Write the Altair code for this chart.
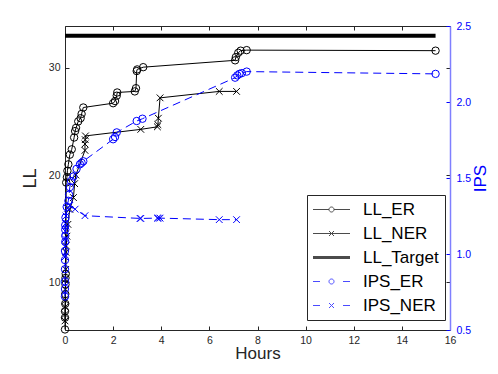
import altair as alt
import pandas as pd

# ---------------- data ----------------
ll_er_x = [0, 0, 0, 0.01, 0.01, 0.02, 0.02, 0.03, 0.05, 0.08, 0.1, 0.14, 0.2, 0.28, 0.38,
           0.42, 0.46, 0.55, 0.65, 0.69, 0.76, 2.0, 2.08, 2.15, 2.17, 2.9, 2.95, 2.98, 3.0,
           3.25, 7.07, 7.1, 7.2, 7.3, 7.55, 15.4]
ll_er_y = [5.6, 6.7, 7.3, 8.0, 8.9, 9.8, 10.4, 10.8, 19.3, 19.8, 20.4, 21.0, 21.9, 22.4, 23.5,
           24.1, 24.4, 25.0, 25.3, 25.7, 26.3, 26.7, 26.9, 27.4, 27.7, 27.8, 28.1, 29.7, 29.85,
           30.06, 30.7, 31.0, 31.4, 31.6, 31.65, 31.6]

ll_ner_x = [0, 0, 0.01, 0.01, 0.02, 0.02, 0.03, 0.04, 0.05, 0.08, 0.12, 0.2, 0.35, 0.4, 0.45,
            0.83, 0.83, 0.84, 0.85, 3.15, 3.84, 3.86, 3.88, 3.95, 6.41, 7.13]
ll_ner_y = [6.4, 7.0, 7.7, 8.3, 9.3, 10.3, 11.2, 12.8, 13.4, 14.3, 15.4, 16.8, 17.9, 19.2, 20.0,
            22.3, 22.9, 23.3, 23.65, 24.26, 24.5, 24.7, 25.3, 27.2, 27.8, 27.8]

target_x = [0, 15.4]
target_y = [33, 33]

ips_er_x = [0, 0, 0, 0, 0, 0, 0.01, 0.01, 0.01, 0.01, 0.02, 0.07, 0.14, 0.17, 0.2, 0.25, 0.35,
            0.48, 0.62, 0.69, 0.76, 2.0, 2.08, 2.15, 2.98, 3.22, 7.07, 7.16, 7.25, 7.35, 7.55, 15.4]
ips_er_y = [0.72, 0.77, 0.82, 0.9, 0.96, 1.02, 1.08, 1.12, 1.16, 1.19, 1.24, 1.31, 1.35, 1.39,
            1.44, 1.48, 1.51, 1.56, 1.59, 1.60, 1.61, 1.755, 1.77, 1.80, 1.875, 1.89, 2.16, 2.175,
            2.185, 2.19, 2.20, 2.185]

ips_ner_x = [0, 0, 0.01, 0.01, 0.02, 0.04, 0.1, 0.2, 0.42, 0.83, 3.12, 3.15, 3.84, 3.88, 3.95,
             6.41, 7.13]
ips_ner_y = [0.98, 1.05, 1.1, 1.15, 1.2, 1.25, 1.3, 1.32, 1.295, 1.252, 1.234, 1.234, 1.236,
             1.236, 1.236, 1.226, 1.226]

series_names = ["LL_ER", "LL_NER", "LL_Target", "IPS_ER", "IPS_NER"]
series_colors = ["#000000", "#000000", "#000000", "#0000ff", "#0000ff"]
# legend glyphs (SVG paths): line + marker, thick line, dashed line + marker
legend_paths = [
    "M-3.7,0H-0.5M0.5,0H3.7M-0.5,0A0.5,0.5 0 1,1 0.5,0A0.5,0.5 0 1,1 -0.5,0",
    "M-3.7,0H3.7M-0.5,-0.5L0.5,0.5M-0.5,0.5L0.5,-0.5",
    "M-3.7,-0.2H3.7M-3.7,-0.1H3.7M-3.7,0H3.7M-3.7,0.1H3.7M-3.7,0.2H3.7",
    "M-3.7,0H-2.3M2.3,0H3.7M-0.5,0A0.5,0.5 0 1,1 0.5,0A0.5,0.5 0 1,1 -0.5,0",
    "M-3.7,0H-2.3M2.3,0H3.7M-0.5,-0.5L0.5,0.5M-0.5,0.5L0.5,-0.5",
]

x_ticks = [0, 2, 4, 6, 8, 10, 12, 14, 16]
ll_ticks = [10, 20, 30]
ips_ticks = [0.5, 1, 1.5, 2, 2.5]

# ---------------- styling ----------------
FONT = "Liberation Sans"
AX = "#262626"
BLUE = "#0000ff"
LBLUE = "#7f7fff"
XMARK = "M-1,-1L1,1M-1,1L1,-1"


def frame(xs, ys):
    return pd.DataFrame({"h": xs, "v": ys, "i": list(range(len(xs)))})


er_df = frame(ll_er_x, ll_er_y)
ner_df = frame(ll_ner_x, ll_ner_y)
tg_df = frame(target_x, target_y)
ier_df = frame(ips_er_x, ips_er_y)
iner_df = frame(ips_ner_x, ips_ner_y)
leg_df = pd.DataFrame({"s": series_names, "h": [1] * 5, "v": [20] * 5})

xsc = alt.Scale(domain=[0, 16], nice=False, zero=False)
llsc = alt.Scale(domain=[5.55, 33.9], nice=False, zero=False)
ipssc = alt.Scale(domain=[0.5, 2.5], nice=False, zero=False)

common = dict(grid=False, labelFont=FONT, labelFontSize=10.5, labelFlush=False,
              labelOverlap=False, titleFont=FONT, titleFontWeight="normal")
bare = dict(grid=False, labels=False, title=None)

# labelled axes with inward ticks (offset -4, ticks pointing outwards -> end on the frame)
x_bottom = alt.Axis(orient="bottom", values=x_ticks, offset=-4, tickSize=4, domain=False,
                    labelPadding=5, labelColor=AX, tickColor=AX, title="Hours",
                    titleColor=AX, titlePadding=0, titleFontSize=17, **common)
ll_left = alt.Axis(orient="left", values=ll_ticks, offset=-4, tickSize=4, domain=False,
                   labelPadding=5, labelColor=AX, tickColor=AX, title="LL",
                   titleColor=AX, titlePadding=9, titleFontSize=18, **common)
ips_right = alt.Axis(orient="right", values=ips_ticks, offset=-4, tickSize=4, domain=False,
                     labelPadding=6, labelColor=BLUE, tickColor=BLUE, title="IPS",
                     titleColor=BLUE, titleAngle=270, titleBaseline="top", titlePadding=2,
                     titleFontSize=17, **common)
# tick-only axes (mirrored ticks)
x_top = alt.Axis(orient="top", values=x_ticks, offset=-4, tickSize=4, domain=False,
                 tickColor=AX, **bare)
ll_right = alt.Axis(orient="right", values=ll_ticks, offset=-4, tickSize=4, domain=False,
                    tickColor=AX, **bare)
# frame lines (domain-only axes)
x_bottom_dom = alt.Axis(orient="bottom", domain=True, domainColor=AX, ticks=False, **bare)
x_top_dom = alt.Axis(orient="top", domain=True, domainColor=AX, ticks=False, **bare)
ll_left_dom = alt.Axis(orient="left", domain=True, domainColor=AX, ticks=False, **bare)
ips_dom = alt.Axis(orient="right", domain=True, domainColor=LBLUE, domainWidth=1.5,
                   ticks=False, **bare)


def enc(sc, xaxis=None, yaxis=None):
    return dict(x=alt.X("h:Q", scale=xsc, axis=xaxis), y=alt.Y("v:Q", scale=sc, axis=yaxis))


def line(df, color, sc, xaxis=None, yaxis=None, dash=None, width=1):
    kw = dict(color=color, strokeWidth=width)
    if dash:
        kw["strokeDash"] = dash
    return alt.Chart(df).mark_line(**kw).encode(order="i:Q", **enc(sc, xaxis, yaxis))


def pts(df, color, sc, shape, size, xaxis=None, yaxis=None):
    return alt.Chart(df).mark_point(shape=shape, filled=False, size=size, color=color,
                                    strokeWidth=1, opacity=1).encode(**enc(sc, xaxis, yaxis))


leg = alt.Legend(title=None, orient="none", legendX=242, legendY=169, fillColor="white",
                 strokeColor=AX, padding=6, cornerRadius=0, labelFont=FONT, labelFontSize=17,
                 labelColor="black", rowPadding=6, symbolSize=100, symbolStrokeWidth=1,
                 symbolOffset=10, labelOffset=23)

legend_layer = alt.Chart(leg_df).transform_filter("false").mark_point(
    filled=False, size=100, strokeWidth=1).encode(
    color=alt.Color("s:N", scale=alt.Scale(domain=series_names, range=series_colors), legend=leg),
    shape=alt.Shape("s:N", scale=alt.Scale(domain=series_names, range=legend_paths), legend=leg),
    **enc(llsc),
)

chart = alt.layer(
    line(er_df, "black", llsc, xaxis=x_bottom, yaxis=ll_left),
    pts(er_df, "black", llsc, "circle", 55, xaxis=x_bottom_dom, yaxis=ll_left_dom),
    line(ner_df, "black", llsc, xaxis=x_top, yaxis=ll_right),
    pts(ner_df, "black", llsc, XMARK, 45, xaxis=x_top_dom),
    line(tg_df, "black", llsc, width=4),
    legend_layer,
    line(ier_df, BLUE, ipssc, yaxis=ips_right, dash=[8, 5]),
    pts(ier_df, BLUE, ipssc, "circle", 55, yaxis=ips_dom),
    line(iner_df, BLUE, ipssc, dash=[8, 5]),
    pts(iner_df, BLUE, ipssc, XMARK, 45),
).resolve_scale(x="independent", y="independent").properties(
    width=385, height=304, autosize="none",
    padding={"left": 57, "top": 18, "right": 40, "bottom": 36},
    background="white",
).configure_view(stroke="transparent").configure(font=FONT)

chart.save("out.html", embed_options={"renderer": "svg", "actions": False})
